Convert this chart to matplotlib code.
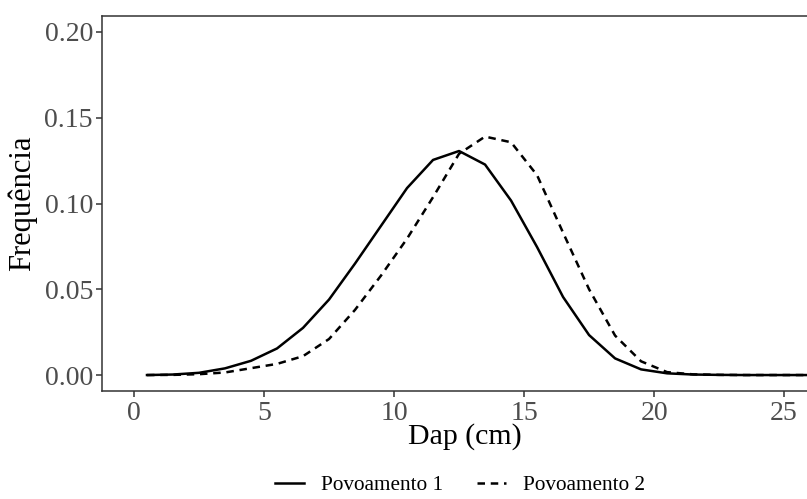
import numpy as np
import matplotlib
matplotlib.use('Agg')
from matplotlib import pyplot as plt
from matplotlib.lines import Line2D

# diameter classes (class centres, cm)
dap = [0.5, 1.5, 2.5, 3.5, 4.5, 5.5, 6.5, 7.5, 8.5, 9.5, 10.5, 11.5, 12.5,
       13.5, 14.5, 15.5, 16.5, 17.5, 18.5, 19.5, 20.5, 21.5, 22.5, 23.5,
       24.5, 25.5, 26.5]

# frequencies
povoamento1 = [0.0, 0.0003, 0.0013, 0.0039, 0.0083, 0.0155, 0.0275, 0.044,
               0.065, 0.087, 0.109, 0.1254, 0.1306, 0.1227, 0.1017, 0.0746,
               0.0455, 0.0233, 0.0097, 0.0033, 0.001, 0.0003, 0.0001, 0.0,
               0.0, 0.0, 0.0]
povoamento2 = [0.0, 0.0001, 0.0005, 0.0015, 0.004, 0.0065, 0.011, 0.021,
               0.038, 0.058, 0.0795, 0.1037, 0.129, 0.139, 0.1357, 0.1165,
               0.083, 0.050, 0.023, 0.008, 0.0017, 0.0004, 0.0001, 0.0,
               0.0, 0.0, 0.0]

labels = ['Povoamento 1', 'Povoamento 2']
xticks = [0, 5, 10, 15, 20, 25]
yticks = [0.00, 0.05, 0.10, 0.15, 0.20]

plt.rcParams['font.family'] = ['Liberation Serif', 'DejaVu Serif']

W, H = 807, 499
fig = plt.figure(figsize=(W / 100, H / 100), dpi=100)
ax = fig.add_axes([102 / W, (H - 391) / H, (W - 102) / W, 375 / H])

dashed = (0, (3, 2.3))
ax.plot(dap, povoamento1, color='black', lw=1.8)
ax.plot(dap, povoamento2, color='black', lw=1.8, linestyle=dashed)

ax.set_xlim(-1.23, 25.88)
ax.set_ylim(-0.0093, 0.2093)
ax.set_xticks(xticks)
ax.set_yticks(yticks)
ax.set_yticklabels(['%.2f' % v for v in yticks])

for side in ['left', 'bottom', 'top']:
    ax.spines[side].set_color('#333333')
    ax.spines[side].set_linewidth(1.1)
ax.spines['right'].set_visible(False)

ax.tick_params(axis='both', length=4.5, width=1.1, color='#333333',
               labelsize=20, labelcolor='#4D4D4D', pad=2)
ax.tick_params(axis='x', pad=3)

ax.set_xlabel('Dap (cm)', fontsize=21.5, color='black')
ax.set_ylabel('Frequência', fontsize=22, color='black')
ax.xaxis.set_label_coords((465 - 102) / (W - 102), (391 - 437) / 375)
ax.xaxis.label.set_va('center')
ax.yaxis.set_label_coords((22 - 102) / (W - 102), 0.5)
ax.yaxis.label.set_va('center')

handles = [Line2D([], [], color='black', lw=1.8),
           Line2D([], [], color='black', lw=1.8, linestyle=dashed)]
fig.legend(handles, labels, loc='center', bbox_to_anchor=(460 / W, (H - 485) / H),
           ncol=2, frameon=False, fontsize=15.3, handlelength=1.35,
           handletextpad=0.8, columnspacing=1.6)

fig.savefig('out.png', dpi=100)
